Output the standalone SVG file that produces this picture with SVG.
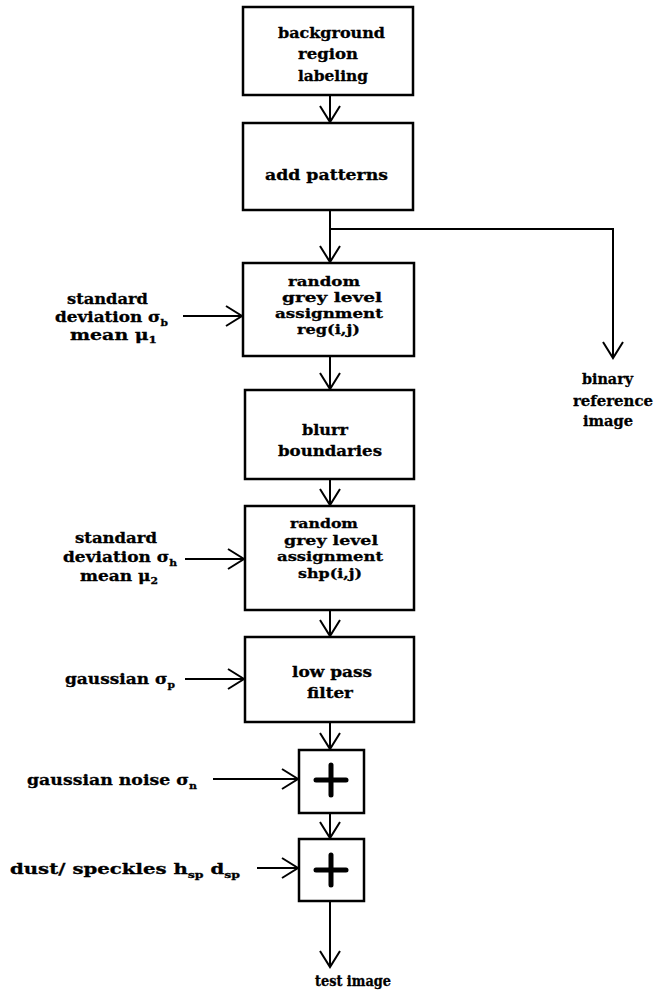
<svg xmlns="http://www.w3.org/2000/svg" width="665" height="998" viewBox="0 0 665 998">
  <style>
    .box { fill: #fff; stroke: #000; stroke-width: 2.5; }
    .wire { fill: none; stroke: #000; stroke-width: 2; }
    .lbl { font-family: "DejaVu Serif", "Liberation Serif", serif; font-weight: bold; font-size: 15px; fill: #000; stroke: #000; stroke-width: 0.3; }
    .tight { font-size: 13.5px; }
    .small { font-size: 14px; }
    .sub { font-size: 9.5px; }
    .plus { stroke: #000; stroke-width: 5; stroke-linecap: round; }
  </style>
  <defs>
    <marker id="vhead" markerUnits="userSpaceOnUse" markerWidth="22" markerHeight="24" refX="0" refY="0" viewBox="-18 -12 20 24" orient="auto">
      <path d="M-16,-10 L0,0 L-16,10" fill="none" stroke="#000" stroke-width="2"/>
    </marker>
  </defs>
  <rect width="665" height="998" fill="#fff"/>

  <g id="connectors">
    <line class="wire" x1="330" y1="95" x2="330" y2="122" marker-end="url(#vhead)"/>
    <line class="wire" x1="330" y1="210" x2="330" y2="262" marker-end="url(#vhead)"/>
    <polyline class="wire" points="330,229 613,229 613,358" marker-end="url(#vhead)"/>
    <line class="wire" x1="330" y1="356" x2="330" y2="389" marker-end="url(#vhead)"/>
    <line class="wire" x1="330" y1="479" x2="330" y2="505" marker-end="url(#vhead)"/>
    <line class="wire" x1="330" y1="610" x2="330" y2="636" marker-end="url(#vhead)"/>
    <line class="wire" x1="330" y1="722" x2="330" y2="749" marker-end="url(#vhead)"/>
    <line class="wire" x1="330" y1="813" x2="330" y2="838" marker-end="url(#vhead)"/>
    <line class="wire" x1="330" y1="901" x2="330" y2="967" marker-end="url(#vhead)"/>
    <line class="wire" x1="183" y1="316" x2="242" y2="316" marker-end="url(#vhead)"/>
    <line class="wire" x1="185" y1="559" x2="244" y2="559" marker-end="url(#vhead)"/>
    <line class="wire" x1="185" y1="679" x2="244" y2="679" marker-end="url(#vhead)"/>
    <line class="wire" x1="213" y1="779" x2="298" y2="779" marker-end="url(#vhead)"/>
    <line class="wire" x1="257" y1="868" x2="298" y2="868" marker-end="url(#vhead)"/>
  </g>

  <g id="labeling">
    <rect class="box" x="243" y="7" width="170" height="88"/>
    <text class="lbl" x="278" y="38" textLength="107" lengthAdjust="spacingAndGlyphs">background</text>
    <text class="lbl" x="298" y="59" textLength="60" lengthAdjust="spacingAndGlyphs">region</text>
    <text class="lbl" x="298" y="81" textLength="70" lengthAdjust="spacingAndGlyphs">labeling</text>
  </g>

  <g id="add-patterns">
    <rect class="box" x="243" y="123" width="170" height="87"/>
    <text class="lbl" x="265" y="180" textLength="123" lengthAdjust="spacingAndGlyphs">add patterns</text>
  </g>

  <g id="grey-reg">
    <rect class="box" x="243" y="263" width="171" height="93"/>
    <text class="lbl tight" x="288" y="286" textLength="72" lengthAdjust="spacingAndGlyphs">random</text>
    <text class="lbl tight" x="282" y="302" textLength="100" lengthAdjust="spacingAndGlyphs">grey level</text>
    <text class="lbl tight" x="275" y="318" textLength="108" lengthAdjust="spacingAndGlyphs">assignment</text>
    <text class="lbl tight" x="297" y="334" textLength="63" lengthAdjust="spacingAndGlyphs">reg(i,j)</text>
  </g>

  <g id="blurr">
    <rect class="box" x="245" y="390" width="169" height="89"/>
    <text class="lbl" x="302" y="435" textLength="46" lengthAdjust="spacingAndGlyphs">blurr</text>
    <text class="lbl" x="278" y="456" textLength="104" lengthAdjust="spacingAndGlyphs">boundaries</text>
  </g>

  <g id="grey-shp">
    <rect class="box" x="245" y="506" width="169" height="104"/>
    <text class="lbl tight" x="290" y="528" textLength="68" lengthAdjust="spacingAndGlyphs">random</text>
    <text class="lbl tight" x="284" y="544.5" textLength="94" lengthAdjust="spacingAndGlyphs">grey level</text>
    <text class="lbl tight" x="277" y="561" textLength="106" lengthAdjust="spacingAndGlyphs">assignment</text>
    <text class="lbl tight" x="298" y="577.5" textLength="64" lengthAdjust="spacingAndGlyphs">shp(i,j)</text>
  </g>

  <g id="low-pass">
    <rect class="box" x="245" y="637" width="169" height="85"/>
    <text class="lbl" x="292" y="677" textLength="80" lengthAdjust="spacingAndGlyphs">low pass</text>
    <text class="lbl" x="307" y="698" textLength="46" lengthAdjust="spacingAndGlyphs">filter</text>
  </g>

  <g id="add-noise">
    <rect class="box" x="299" y="750" width="65" height="63"/>
    <line class="plus" x1="316" y1="780" x2="346" y2="780"/>
    <line class="plus" x1="331" y1="765" x2="331" y2="795"/>
  </g>

  <g id="add-dust">
    <rect class="box" x="299" y="839" width="65" height="62"/>
    <line class="plus" x1="316" y1="870" x2="346" y2="870"/>
    <line class="plus" x1="331" y1="855" x2="331" y2="885"/>
  </g>

  <g id="binary-out">
    <text class="lbl" x="582" y="384" textLength="51" lengthAdjust="spacingAndGlyphs">binary</text>
    <text class="lbl" x="573" y="406" textLength="80" lengthAdjust="spacingAndGlyphs">reference</text>
    <text class="lbl" x="583" y="426" textLength="50" lengthAdjust="spacingAndGlyphs">image</text>
  </g>

  <g id="test-out">
    <text class="lbl small" x="315" y="986" textLength="76" lengthAdjust="spacingAndGlyphs">test image</text>
  </g>

  <g id="params-reg">
    <text class="lbl" x="67" y="304" textLength="81" lengthAdjust="spacingAndGlyphs">standard</text>
    <text class="lbl" x="55" y="322" textLength="113" lengthAdjust="spacingAndGlyphs">deviation σ<tspan class="sub" dy="4">b</tspan></text>
    <text class="lbl" x="70" y="340" textLength="87" lengthAdjust="spacingAndGlyphs">mean μ<tspan class="sub" dy="3">1</tspan></text>
  </g>

  <g id="params-shp">
    <text class="lbl" x="75" y="543" textLength="82" lengthAdjust="spacingAndGlyphs">standard</text>
    <text class="lbl" x="63" y="562" textLength="114" lengthAdjust="spacingAndGlyphs">deviation σ<tspan class="sub" dy="4">h</tspan></text>
    <text class="lbl" x="80" y="581" textLength="78" lengthAdjust="spacingAndGlyphs">mean μ<tspan class="sub" dy="3">2</tspan></text>
  </g>

  <g id="params-filter">
    <text class="lbl" x="65" y="684" textLength="110" lengthAdjust="spacingAndGlyphs">gaussian σ<tspan class="sub" dy="4">p</tspan></text>
  </g>

  <g id="params-noise">
    <text class="lbl" x="27" y="785" textLength="170" lengthAdjust="spacingAndGlyphs">gaussian noise σ<tspan class="sub" dy="4">n</tspan></text>
  </g>

  <g id="params-dust">
    <text class="lbl" x="10" y="874" textLength="230" lengthAdjust="spacingAndGlyphs">dust/ speckles h<tspan class="sub" dy="4">sp</tspan><tspan dy="-4">  d</tspan><tspan class="sub" dy="4">sp</tspan></text>
  </g>
</svg>
